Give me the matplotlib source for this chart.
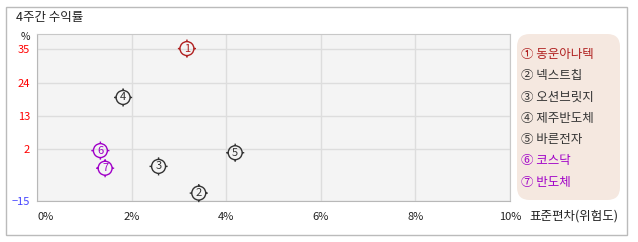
import numpy as np
import matplotlib.pyplot as plt
from matplotlib.path import Path
from matplotlib.patches import FancyBboxPatch, Rectangle

plt.rcParams['font.family'] = ['Noto Sans CJK KR', 'DejaVu Sans']

# data
nums = ['1', '2', '3', '4', '5', '6', '7']
circled = ['①', '②', '③', '④', '⑤', '⑥', '⑦']
names = ['동운아나텍', '넥스트칩', '오션브릿지', '제주반도체', '바른전자', '코스닥', '반도체']
risk = [3.17, 3.42, 2.57, 1.82, 4.19, 1.34, 1.44]      # 표준편차 (%)
ret = [35.2, -12.4, -3.6, 19.1, 0.9, 1.6, -4.2]        # 4주간 수익률 (%)
colors = ['#b02020', '#333333', '#333333', '#333333', '#333333', '#a000c8', '#a000c8']

xticks = [0, 2, 4, 6, 8, 10]
xticklabels = ['0%', '2%', '4%', '6%', '8%', '10%']
yticks = [-15, 2, 13, 24, 35]
yticklabels = ['−15', '2', '13', '24', '35']
ytickcolors = ['#4444ff', '#ff0000', '#ff0000', '#ff0000', '#ff0000']

# marker: circle with four small ticks
circ = Path.unit_circle()
tk = Path([(0, 1), (0, 1.3), (0, -1), (0, -1.3), (1, 0), (1.3, 0), (-1, 0), (-1.3, 0)],
          [Path.MOVETO, Path.LINETO] * 4)
mark = Path.make_compound_path(circ, tk)

fig = plt.figure(figsize=(6.38, 2.42), dpi=100)
W, H = 638, 242

# outer frame
fig.patches.append(Rectangle((6 / W, 1 - 235 / H), 621 / W, 228 / H, transform=fig.transFigure,
                             facecolor='white', edgecolor='#bbbbbb', lw=1, zorder=-5))

ax = fig.add_axes([37 / W, 1 - 201 / H, 473 / W, 167 / H])
ax.set_zorder(2)
ax.set_facecolor('#f4f4f4')
ax.set_xlim(0, 10)
ax.set_ylim(-15, 40)
ax.set_xticks(xticks)
ax.set_xticklabels(xticklabels, fontsize=8, color='#222222')
ax.get_xticklabels()[0].set_horizontalalignment('left')
ax.set_yticks(yticks)
ax.set_yticklabels(yticklabels, fontsize=8)
for lab, c in zip(ax.get_yticklabels(), ytickcolors):
    lab.set_color(c)
ax.tick_params(length=0)
ax.tick_params(axis='x', pad=8)
ax.tick_params(axis='y', pad=5)
ax.grid(True, color='#dddddd', lw=1)
ax.set_axisbelow(True)
for s in ax.spines.values():
    s.set_color('#c8c8c8')
ax.spines['left'].set_color('#b8b8b8')
ax.spines['bottom'].set_color('#b8b8b8')

for i in range(len(nums)):
    ax.scatter(risk[i], ret[i], marker=mark, s=170, facecolors='none',
               edgecolors=colors[i], linewidths=1.0, zorder=3, clip_on=False)
    ax.text(risk[i], ret[i], nums[i], color=colors[i], fontsize=8,
            ha='center', va='center', zorder=4)

fig.text(16 / W, 1 - 17 / H, '4주간 수익률', fontsize=9, color='#222222', va='center')
fig.text(25 / W, 1 - 37 / H, '%', fontsize=7.5, color='#222222', va='center', ha='center')
fig.text(529 / W, 1 - 216 / H, '표준편차(위험도)', fontsize=9, color='#222222', va='center')

# legend box
fig.patches.append(FancyBboxPatch((517 / W, 1 - 200 / H), 103 / W, 166 / H,
                                  boxstyle='round,pad=0,rounding_size=0.02',
                                  transform=fig.transFigure, facecolor='#f5e8e0',
                                  edgecolor='none', zorder=1, mutation_aspect=W / H))
for i in range(len(names)):
    y = 54.3 + i * 21.3
    fig.text(521 / W, 1 - y / H, circled[i] + ' ' + names[i], fontsize=9,
             color=colors[i], va='center', zorder=2)

fig.savefig('out.png', dpi=100)
